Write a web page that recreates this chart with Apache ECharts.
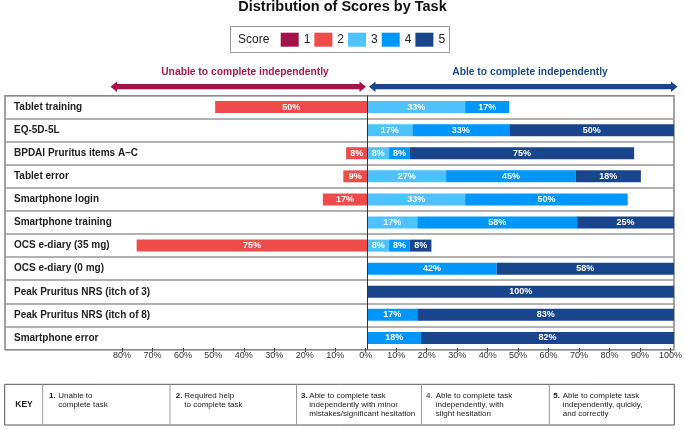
<!DOCTYPE html>
<html>
<head>
<meta charset="utf-8">
<script src="https://cdn.jsdelivr.net/npm/echarts@6/dist/echarts.min.js"></script>
<style>
html,body{margin:0;padding:0;background:#fff;}
#chart{width:685px;height:430px;}
</style>
</head>
<body>
<div id="chart"></div>
<script>
// ---- data (top to bottom) ----
var tasks = ['Tablet training','EQ-5D-5L','BPDAI Pruritus items A\u2013C','Tablet error','Smartphone login',
  'Smartphone training','OCS e-diary (35 mg)','OCS e-diary (0 mg)','Peak Pruritus NRS (itch of 3)',
  'Peak Pruritus NRS (itch of 8)','Smartphone error'];
// bar lengths (% of participants) as drawn
var score1 = [null,null,null,null,null,null,null,null,null,null,null];
var score2 = [49.6,null,6.9,7.8,14.5,null,75.2,null,null,null,null];
var score3 = [31.9,14.7,7.1,25.7,31.9,16.3,7.1,null,null,null,null];
var score4 = [14.4,31.6,6.8,42.3,53.0,52.1,6.8,42.2,null,16.3,17.5];
var score5 = [null,53.7,73.1,21.2,null,31.6,7.0,57.8,100,83.7,82.5];
// printed labels inside the bars
var printed2 = [50,null,8,9,17,null,75,null,null,null,null];
var printed3 = [33,17,8,27,33,17,8,null,null,null,null];
var printed4 = [17,33,8,45,50,58,8,42,null,17,18];
var printed5 = [null,50,75,18,null,25,8,58,100,83,82];
var scoreNames = ['1','2','3','4','5'];
var scoreColors = ['#a3134a','#ef4b4b','#4dc2fc','#0096fb','#18458b'];
var tickValues = [-80,-70,-60,-50,-40,-30,-20,-10,0,10,20,30,40,50,60,70,80,90,100];
var keyItems = [
  {num:'1.', bold:true, text:'Unable to\ncomplete task'},
  {num:'2.', bold:true, text:'Required help\nto complete task'},
  {num:'3.', bold:true, text:'Able to complete task\nindependently with minor\nmistakes/significant hesitation'},
  {num:'4.', bold:false, text:'Able to complete task\nindependently, with\nslight hesitation'},
  {num:'5.', bold:true, text:'Able to complete task\nindependently, quickly,\nand correctly'}
];

var FONT = "'Liberation Sans', Arial, sans-serif";
var chart = echarts.init(document.getElementById('chart'));

// geometry
var zeroX = 367.3, pxPer = 3.067, boxL = 5, boxR = 674, boxT = 95.5, boxB = 349.5;
var mainMin = -(zeroX - boxL) / pxPer;

function lab(arr){
  return {
    show:true, position:'inside', color:'#fff', fontSize:9, fontWeight:'bold', fontFamily:FONT,
    formatter:function(p){ var v = arr[p.dataIndex]; return (v===null||v===undefined)?'':v+'%'; }
  };
}

var series = [
  {name:'1', type:'bar', stack:'s', data:score1, itemStyle:{color:scoreColors[0]}, barWidth:12},
  {name:'2', type:'bar', stack:'s', data:score2.map(function(v){return v===null?null:-v;}),
    itemStyle:{color:scoreColors[1]}, barWidth:12, label:lab(printed2)},
  {name:'3', type:'bar', stack:'s', data:score3, itemStyle:{color:scoreColors[2]}, barWidth:12, label:lab(printed3),
    markLine:{silent:true, symbol:'none', label:{show:false}, lineStyle:{color:'#333', width:1, type:'solid'},
      data:[{xAxis:0}]}},
  {name:'4', type:'bar', stack:'s', data:score4, itemStyle:{color:scoreColors[3]}, barWidth:12, label:lab(printed4)},
  {name:'5', type:'bar', stack:'s', data:score5, itemStyle:{color:scoreColors[4]}, barWidth:12, label:lab(printed5)}
];

// graphics: legend box, arrows, key table
function arrow(x1, x2, y, color){
  var h = 2.6, H = 5.2, L = 6.5;
  return {type:'polygon', silent:true, shape:{points:[
    [x1,y],[x1+L,y-H],[x1+L,y-h],[x2-L,y-h],[x2-L,y-H],[x2,y],[x2-L,y+H],[x2-L,y+h],[x1+L,y+h],[x1+L,y+H]
  ]}, style:{fill:color}};
}
var graphics = [
  {type:'rect', silent:true, shape:{x:230.5,y:26.5,width:219,height:26}, style:{fill:'none', stroke:'#999', lineWidth:1}},
  {type:'text', silent:true, x:238, y:39.8, style:{text:'Score', fontSize:12, fontFamily:FONT, fill:'#222', textVerticalAlign:'middle'}},
  arrow(110.5, 366, 86.7, '#a3134a'),
  arrow(369, 677.5, 86.7, '#18458b'),
  {type:'text', silent:true, x:245, y:72.3, style:{text:'Unable to complete independently', fontSize:10.3, fontWeight:'bold', fontFamily:FONT, fill:'#b0174f', textAlign:'center', textVerticalAlign:'middle'}},
  {type:'text', silent:true, x:530, y:72.3, style:{text:'Able to complete independently', fontSize:10.3, fontWeight:'bold', fontFamily:FONT, fill:'#1d4a8f', textAlign:'center', textVerticalAlign:'middle'}},
  {type:'rect', silent:true, shape:{x:4.7,y:384.3,width:669.6,height:40.7}, style:{fill:'none', stroke:'#555', lineWidth:1}},
  {type:'text', silent:true, x:24, y:404.8, style:{text:'KEY', fontSize:8.5, fontWeight:'bold', fontFamily:FONT, fill:'#222', textAlign:'center', textVerticalAlign:'middle'}}
];
var dividers = [42.7, 170, 296.5, 421.5, 549.3];
var numX = [49, 175.7, 301, 426, 553.3];
var bodyX = [58.3, 184.3, 309.3, 435.7, 562.7];
dividers.forEach(function(x){
  graphics.push({type:'line', silent:true, shape:{x1:x,y1:384.3,x2:x,y2:425}, style:{stroke:'#999', lineWidth:1}});
});
keyItems.forEach(function(k, i){
  graphics.push({type:'text', silent:true, x:numX[i], y:391.8, style:{text:k.num, fontSize:8, fontWeight:k.bold?'bold':'normal', fontFamily:FONT, fill:'#222', textVerticalAlign:'top'}});
  graphics.push({type:'text', silent:true, x:bodyX[i], y:391.8, style:{text:k.text, fontSize:8, lineHeight:8.8, fontFamily:FONT, fill:'#222', textVerticalAlign:'top'}});
});

chart.setOption({
  animation:false,
  textStyle:{fontFamily:FONT},
  title:{text:'Distribution of Scores by Task', left:'center', top:-1, padding:0,
    textStyle:{fontSize:14.5, fontWeight:'bold', color:'#111', fontFamily:FONT}},
  legend:{data:scoreNames, left:280.7, top:32.7, padding:0, itemWidth:18, itemHeight:14, itemGap:4, icon:'rect',
    selectedMode:false, textStyle:{fontSize:12, color:'#222', fontFamily:FONT, padding:[0,0,0,0]}},
  grid:[
    {left:boxL, right:685-boxR, top:boxT, bottom:430-boxB, show:true, borderColor:'#666', borderWidth:1.2, containLabel:false},
    {left:zeroX-80*pxPer, right:685-boxR, top:boxB-1.5, bottom:430-boxB+1.5, show:false, containLabel:false}
  ],
  xAxis:[
    {type:'value', gridIndex:0, min:mainMin, max:100, show:false, splitLine:{show:false}},
    {type:'value', gridIndex:1, min:-80, max:100, interval:10, position:'bottom',
      axisLine:{show:false}, splitLine:{show:false},
      axisTick:{show:true, length:4, lineStyle:{color:'#444', width:1}},
      axisLabel:{margin:3, fontSize:9, color:'#333', fontFamily:FONT,
        formatter:function(v){ return tickValues.indexOf(v) >= 0 ? Math.abs(v)+'%' : ''; }}}
  ],
  yAxis:[
    {type:'category', gridIndex:0, data:tasks, inverse:true,
      axisLine:{show:false}, axisTick:{show:false},
      splitLine:{show:true, lineStyle:{color:'#999', width:1.5}},
      axisLabel:{inside:true, margin:9, align:'left', fontSize:10, fontWeight:'bold', color:'#222', fontFamily:FONT}},
    {type:'value', gridIndex:1, show:false}
  ],
  graphic:graphics,
  series:series
});
</script>
</body>
</html>
